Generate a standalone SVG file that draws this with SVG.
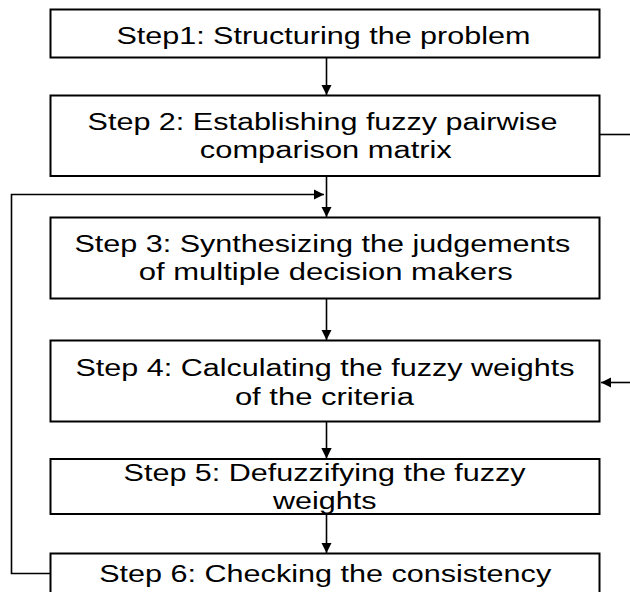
<svg xmlns="http://www.w3.org/2000/svg" width="630" height="592" viewBox="0 0 630 592">
<style>
.box{fill:#fff;stroke:#000;stroke-width:2}
.t{font-family:"Liberation Sans",Arial,sans-serif;font-size:23px;fill:#000;text-anchor:middle}
.c{fill:none;stroke:#000;stroke-width:1.6}
</style>
<defs>
<marker id="ah" viewBox="0 0 10 10" refX="10" refY="5" markerWidth="6.5" markerHeight="6.5" markerUnits="strokeWidth" orient="auto">
<path d="M0,0 L10,5 L0,10 z" fill="#000"/>
</marker>
</defs>
<rect width="630" height="592" fill="#fff"/>
<g id="connectors">
<line class="c" x1="326.5" y1="57.5" x2="326.5" y2="95" marker-end="url(#ah)"/>
<line class="c" x1="326.5" y1="176" x2="326.5" y2="217" marker-end="url(#ah)"/>
<line class="c" x1="326.5" y1="298.5" x2="326.5" y2="340" marker-end="url(#ah)"/>
<line class="c" x1="326.5" y1="421.5" x2="326.5" y2="458.5" marker-end="url(#ah)"/>
<line class="c" x1="326.5" y1="514" x2="326.5" y2="553" marker-end="url(#ah)"/>
<polyline class="c" points="50.5,573.5 11.5,573.5 11.5,194.5 324,194.5" marker-end="url(#ah)"/>
<line class="c" x1="599.5" y1="134.5" x2="630" y2="134.5"/>
<line class="c" x1="630" y1="382.5" x2="601" y2="382.5" marker-end="url(#ah)"/>
</g>
<g id="step1">
<rect class="box" x="50.5" y="9.5" width="549" height="48"/>
<text class="t" x="323.4" y="43.5" textLength="414" lengthAdjust="spacingAndGlyphs">Step1: Structuring the problem</text>
</g>
<g id="step2">
<rect class="box" x="50.5" y="95.5" width="549" height="80.5"/>
<text class="t" x="322.6" y="130" textLength="470" lengthAdjust="spacingAndGlyphs">Step 2: Establishing fuzzy pairwise</text>
<text class="t" x="325.8" y="158" textLength="252" lengthAdjust="spacingAndGlyphs">comparison matrix</text>
</g>
<g id="step3">
<rect class="box" x="50.5" y="217.5" width="549" height="81"/>
<text class="t" x="322.4" y="251.7" textLength="496" lengthAdjust="spacingAndGlyphs">Step 3: Synthesizing the judgements</text>
<text class="t" x="325.8" y="280" textLength="374" lengthAdjust="spacingAndGlyphs">of multiple decision makers</text>
</g>
<g id="step4">
<rect class="box" x="50.5" y="340.5" width="549" height="81"/>
<text class="t" x="325" y="376" textLength="499" lengthAdjust="spacingAndGlyphs">Step 4: Calculating the fuzzy weights</text>
<text class="t" x="324.4" y="405" textLength="179" lengthAdjust="spacingAndGlyphs">of the criteria</text>
</g>
<g id="step5">
<rect class="box" x="50.5" y="459" width="549" height="55"/>
<text class="t" x="324.6" y="481" textLength="402" lengthAdjust="spacingAndGlyphs">Step 5: Defuzzifying the fuzzy</text>
<text class="t" x="324.8" y="509.3" textLength="103.5" lengthAdjust="spacingAndGlyphs">weights</text>
</g>
<g id="step6">
<rect class="box" x="50.5" y="553.5" width="549" height="50"/>
<text class="t" x="325.2" y="581.7" textLength="452" lengthAdjust="spacingAndGlyphs">Step 6: Checking the consistency</text>
</g>
</svg>
